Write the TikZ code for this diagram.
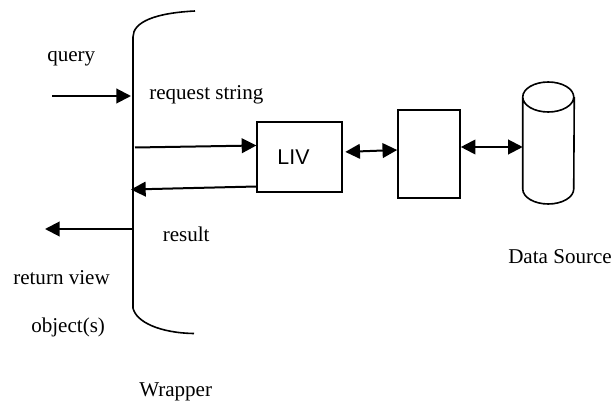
\documentclass[tikz,border=0pt]{standalone}
\usepackage{fontspec}
\setmainfont{Liberation Serif}
\newfontfamily\livfont{Liberation Sans}
\usetikzlibrary{arrows.meta}
\tikzset{
 px/.style={x=0.75pt,y=-0.75pt},
 lbl/.style={font=\fontsize{15.8pt}{18pt}\selectfont,inner sep=0pt,anchor=base west},
 boxs/.style={draw,line width=1.2pt,inner sep=0pt},
 arr/.style={line width=1.5pt,-{Triangle[length=11pt,width=11pt]}},
 darr/.style={line width=1.5pt,{Triangle[length=11pt,width=11pt]}-{Triangle[length=11pt,width=11pt]}}
}
\begin{document}
\begin{tikzpicture}[px]
\useasboundingbox (0,0) rectangle (611,406);
\draw[line width=1.2pt] (195,11) .. controls (155,13) and (133,22) .. (133,37) -- (133,308) .. controls (136,322) and (160,333) .. (194,333.5);
\node[lbl] (q) at (47,62) {query};
\node[lbl] (rs) at (149,100) {request string};
\node[lbl] (res) at (162.5,242) {result};
\node[lbl] (rv) at (13,285) {return view};
\node[lbl] (ob) at (31,333) {object(s)};
\node[lbl] (w) at (139,396) {Wrapper};
\node[lbl] (ds) at (508,264) {Data Source};
\coordinate (a1) at (52,96);
\coordinate (w1) at (131,96);
\coordinate (w2) at (135,147.5);
\coordinate (w3) at (131,189.5);
\coordinate (w4) at (133,229);
\coordinate (a4) at (45,229);
\node[boxs,minimum width=63.5pt,minimum height=52.5pt,font=\livfont\fontsize{16pt}{19pt}\selectfont] (liv) at (299.5,157) {LIV\kern9pt\null};
\node[boxs,minimum width=46.5pt,minimum height=66pt] (m) at (429,154) {};
\node[inner sep=0pt,minimum width=38.25pt,minimum height=91pt] (cyl) at (548.5,143) {};
\draw[line width=1.2pt] (cyl.west |- 0,97) arc[x radius=25.5,y radius=-15,start angle=180,end angle=-180]
  (cyl.west |- 0,97) -- (cyl.west |- 0,189) arc[x radius=25.5,y radius=-15,start angle=180,end angle=360] -- (cyl.east |- 0,97);
\draw[arr] (a1) -- (w1);
\draw[arr] (w2) -- (liv.west |- 0,145.5);
\draw[arr] (liv.west |- 0,186.5) -- (w3);
\draw[arr] (w4) -- (a4);
\draw[darr,shorten <=2pt] (liv.east |- 0,152) -- (m.west |- 0,150);
\draw[darr] (m.east |- 0,147) -- (cyl.west |- 0,147);
\end{tikzpicture}
\end{document}
